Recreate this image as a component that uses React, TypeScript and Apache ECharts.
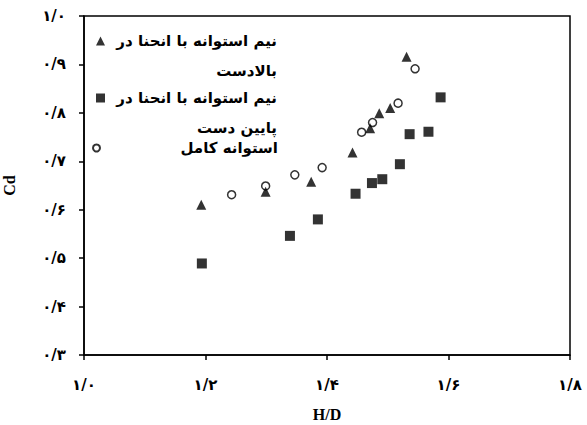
import React, { useEffect, useRef } from 'react';
import * as echarts from 'echarts';

const seriesNames = [
  'نیم استوانه با انحنا در بالادست',
  'نیم استوانه با انحنا در پایین دست',
  'استوانه کامل',
];
const legendLines = [
  ['نیم استوانه با انحنا در', 'بالادست'],
  ['نیم استوانه با انحنا در', 'پایین دست'],
  ['استوانه کامل'],
];

const upstreamHD = [1.193, 1.299, 1.374, 1.442, 1.471, 1.486, 1.504, 1.531];
const upstreamCd = [0.61, 0.637, 0.658, 0.718, 0.768, 0.799, 0.81, 0.916];
const downstreamHD = [1.194, 1.339, 1.385, 1.447, 1.474, 1.491, 1.52, 1.536, 1.567, 1.587];
const downstreamCd = [0.489, 0.546, 0.58, 0.633, 0.655, 0.663, 0.694, 0.756, 0.761, 0.832];
const fullHD = [1.243, 1.299, 1.347, 1.392, 1.457, 1.475, 1.517, 1.545];
const fullCd = [0.631, 0.649, 0.672, 0.687, 0.76, 0.78, 0.82, 0.891];

const xTickLabels = ['۱/۰', '۱/۲', '۱/۴', '۱/۶', '۱/۸'];
const yTickLabels = ['۰/۳', '۰/۴', '۰/۵', '۰/۶', '۰/۷', '۰/۸', '۰/۹', '۱/۰'];

const ARABIC_FONT = 'DejaVu Sans';
const SERIF = '"Liberation Serif", "Times New Roman", serif';

function zip(a: number[], b: number[]) {
  return a.map((v, i) => [v, b[i]]);
}

export default function App() {
  const ref = useRef<HTMLDivElement>(null);
  useEffect(() => {
    document.body.style.margin = '0';
    if (!ref.current) return;
    const chart = echarts.init(ref.current, undefined, { renderer: 'svg' });
    const icons = ['triangle', 'rect', 'circle'];
    const iconSizes = [9, 9, 7];
    const legendLeft = [96, 96, 92];
    const legendTop = [-4, 53, 133];
    const textW = [167, 167, 173];
    chart.setOption({
      animation: false,
      grid: {
        left: 84,
        right: 17,
        top: 16,
        bottom: 70,
        show: true,
        borderColor: '#000',
        borderWidth: 1.5,
        outerBoundsMode: 'none',
        containLabel: false,
      },
      legend: legendLines.map((lines, i) => ({
        data: [{ name: seriesNames[i], icon: icons[i] }],
        left: legendLeft[i],
        top: legendTop[i],
        padding: 0,
        itemWidth: iconSizes[i],
        itemHeight: iconSizes[i],
        selectedMode: false,
        formatter: () => lines.map((l) => `{t|${l}}`).join('\n'),
        textStyle: {
          backgroundColor: 'rgba(0,0,0,0)',
          padding: lines.length > 1 ? [30, 0, 0, 0] : 0,
          rich: {
            t: {
              width: textW[i],
              align: 'right',
              fontFamily: ARABIC_FONT,
              fontWeight: 'bold',
              fontSize: 15,
              lineHeight: 30,
              color: '#000',
            },
          },
        },
      })),
      xAxis: {
        type: 'value',
        min: 1.0,
        max: 1.8,
        interval: 0.2,
        name: 'H/D',
        nameLocation: 'middle',
        nameGap: 51,
        nameTextStyle: { fontFamily: SERIF, fontWeight: 'bold', fontSize: 16, color: '#000' },
        axisLine: { show: true, onZero: false, lineStyle: { color: '#000', width: 1.5 } },
        axisTick: { show: true, length: 5, lineStyle: { color: '#000', width: 1.5 } },
        splitLine: { show: false },
        axisLabel: {
          margin: 22,
          color: '#000',
          fontFamily: ARABIC_FONT,
          fontWeight: 'bold',
          fontSize: 15,
          formatter: (v: number) => xTickLabels[Math.round((v - 1.0) / 0.2)] ?? '',
        },
      },
      yAxis: {
        type: 'value',
        min: 0.3,
        max: 1.0,
        interval: 0.1,
        name: 'Cd',
        nameLocation: 'middle',
        nameGap: 67,
        nameTextStyle: { fontFamily: SERIF, fontWeight: 'bold', fontSize: 16, color: '#000' },
        axisLine: { show: true, onZero: false, lineStyle: { color: '#000', width: 1.5 } },
        axisTick: { show: true, length: 5, lineStyle: { color: '#000', width: 1.5 } },
        splitLine: { show: false },
        axisLabel: {
          margin: 18,
          color: '#000',
          fontFamily: ARABIC_FONT,
          fontWeight: 'bold',
          fontSize: 15,
          formatter: (v: number) => yTickLabels[Math.round((v - 0.3) / 0.1)] ?? '',
        },
      },
      series: [
        {
          name: seriesNames[0],
          type: 'scatter',
          symbol: 'triangle',
          symbolSize: 10,
          itemStyle: { color: '#000' },
          data: zip(upstreamHD, upstreamCd),
        },
        {
          name: seriesNames[1],
          type: 'scatter',
          symbol: 'rect',
          symbolSize: 10,
          itemStyle: { color: '#000' },
          data: zip(downstreamHD, downstreamCd),
        },
        {
          name: seriesNames[2],
          type: 'scatter',
          symbol: 'circle',
          symbolSize: 8,
          itemStyle: { color: 'rgba(255,255,255,0)', borderColor: '#000', borderWidth: 1.5 },
          data: zip(fullHD, fullCd),
        },
      ],
    });
    return () => chart.dispose();
  }, []);
  return <div ref={ref} style={{ width: 587, height: 425 }} />;
}
